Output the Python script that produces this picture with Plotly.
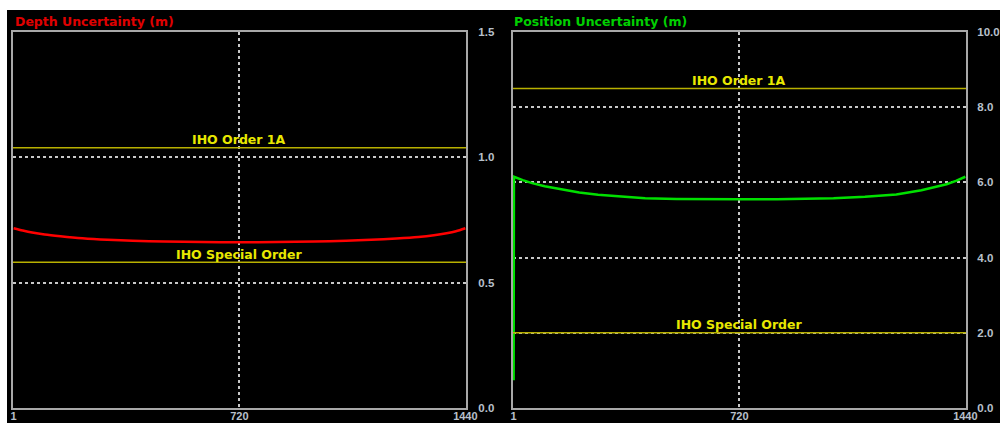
import plotly.graph_objects as go

# ---- data ----
depth_x = [1, 30, 60, 100, 150, 220, 300, 380, 480, 600, 720, 840, 960, 1060, 1140, 1220, 1290, 1340, 1380, 1410, 1440]
depth_y = [0.717, 0.708, 0.700, 0.692, 0.685, 0.677, 0.671, 0.667, 0.664, 0.662, 0.661, 0.662, 0.664, 0.667, 0.671,
           0.676, 0.682, 0.689, 0.697, 0.705, 0.717]

pos_x = [1, 2, 30, 60, 100, 160, 210, 270, 340, 420, 520, 600, 720, 840, 940, 1020, 1120, 1220, 1300, 1340, 1380, 1410, 1440]
pos_y = [0.74, 6.15, 6.06, 5.98, 5.90, 5.80, 5.73, 5.67, 5.62, 5.58, 5.56, 5.55, 5.55, 5.55, 5.56, 5.58, 5.62, 5.68,
         5.79, 5.86, 5.95, 6.04, 6.15]

depth_limits = {"IHO Order 1A": 1.038, "IHO Special Order": 0.581}
pos_limits = {"IHO Order 1A": 8.5, "IHO Special Order": 2.0}

x_ticks = [1, 720, 1440]
depth_ticks = [0.0, 0.5, 1.0, 1.5]
pos_ticks = [0.0, 2.0, 4.0, 6.0, 8.0, 10.0]

# ---- styling ----
W, H = 1000, 423
X_AXIS_RANGE = [-1, 1442]
FONT = "Liberation Sans"
WIDEFONT = "DejaVu Sans"
LIMIT_LINE = "#b8b000"
LIMIT_TEXT = "#e8e800"
GRID = "#c8c8c8"
FRAME = "#a8a8a8"
TICKFONT = dict(family=FONT, size=11.5, color="#b8c0cc", weight="bold")
XTICKFONT = dict(family=FONT, size=11, color="#b8c0cc", weight="bold")


def px_x(p):
    return p / W


def px_y(p):
    return (H - p) / H


fig = go.Figure()

fig.add_trace(go.Scatter(x=depth_x, y=depth_y, mode="lines",
                         line=dict(color="#ff0000", width=2.5, shape="spline", smoothing=0.8),
                         xaxis="x", yaxis="y", hoverinfo="skip"))
for name, v in depth_limits.items():
    fig.add_trace(go.Scatter(x=X_AXIS_RANGE, y=[v, v], mode="lines", line=dict(color=LIMIT_LINE, width=1.5),
                             xaxis="x", yaxis="y", hoverinfo="skip"))
    fig.add_annotation(x=720, y=v, xref="x", yref="y", text=name, showarrow=False, yanchor="middle", yshift=8,
                       font=dict(family=WIDEFONT, size=12.5, color=LIMIT_TEXT, weight="bold"))

fig.add_trace(go.Scatter(x=pos_x, y=pos_y, mode="lines",
                         line=dict(color="#00e000", width=2.5),
                         xaxis="x2", yaxis="y2", hoverinfo="skip"))
for name, v in pos_limits.items():
    fig.add_trace(go.Scatter(x=X_AXIS_RANGE, y=[v, v], mode="lines", line=dict(color=LIMIT_LINE, width=1.5),
                             xaxis="x2", yaxis="y2", hoverinfo="skip"))
    fig.add_annotation(x=720, y=v, xref="x2", yref="y2", text=name, showarrow=False, yanchor="middle", yshift=8,
                       font=dict(family=WIDEFONT, size=12.5, color=LIMIT_TEXT, weight="bold"))

ydom = [px_y(408), px_y(32)]

common = dict(showgrid=True, gridcolor=GRID, griddash="dot", gridwidth=1.5, showline=True, linecolor=FRAME,
              linewidth=2, mirror=True, zeroline=False, ticks="", automargin=False, fixedrange=True,
              layer="below traces")

xax = dict(common, range=X_AXIS_RANGE, tickvals=x_ticks, ticktext=[str(t) for t in x_ticks], tickfont=XTICKFONT,
           ticklabelstandoff=-3)

fig.update_layout(
    width=W, height=H,
    margin=dict(l=0, r=0, t=0, b=0),
    paper_bgcolor="#ffffff",
    plot_bgcolor="#000000",
    showlegend=False,
    xaxis=dict(xax, domain=[px_x(13), px_x(466)], anchor="y"),
    xaxis2=dict(xax, domain=[px_x(513), px_x(966)], anchor="y2"),
    yaxis=dict(common, domain=ydom, anchor="x", range=[0, 1.5], side="right", tickvals=depth_ticks,
               ticktext=[f"{t:.1f}" for t in depth_ticks], tickfont=TICKFONT, ticklabelstandoff=8),
    yaxis2=dict(common, domain=ydom, anchor="x2", range=[0, 10], side="right", tickvals=pos_ticks,
                ticktext=[f"{t:.1f}" for t in pos_ticks], tickfont=TICKFONT, ticklabelstandoff=7),
    shapes=[dict(type="rect", xref="paper", yref="paper", x0=px_x(7), x1=1, y0=0, y1=px_y(10),
                 fillcolor="#000000", line=dict(width=0), layer="below")],
)

fig.add_annotation(x=px_x(13), y=px_y(22), xref="paper", yref="paper", text="Depth Uncertainty (m)",
                   showarrow=False, xanchor="left", yanchor="middle",
                   font=dict(family=WIDEFONT, size=12.5, color="#e00000", weight="bold"))
fig.add_annotation(x=px_x(512), y=px_y(22), xref="paper", yref="paper", text="Position Uncertainty (m)",
                   showarrow=False, xanchor="left", yanchor="middle",
                   font=dict(family=WIDEFONT, size=12.5, color="#00d000", weight="bold"))

fig.write_html("out.html", config={"displayModeBar": False},
               post_script="document.body.style.margin='0px';document.body.style.overflow='hidden';")
